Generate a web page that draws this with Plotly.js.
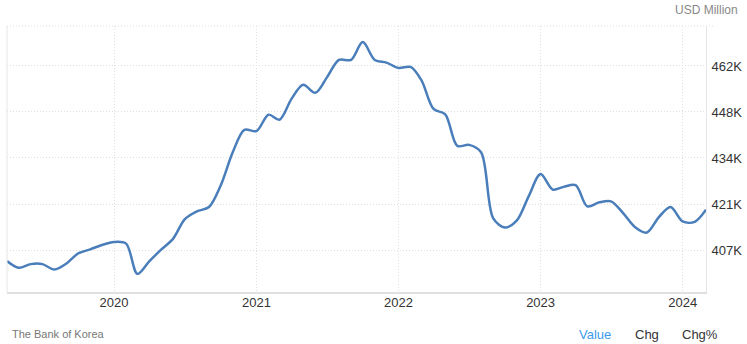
<!DOCTYPE html>
<html>
<head>
<meta charset="utf-8">
<script src="https://cdn.plot.ly/plotly-3.0.1.min.js"></script>
<style>html,body{margin:0;padding:0;background:#fff;}#chart{width:747px;height:344px;}</style>
</head>
<body>
<div id="chart"></div>
<script>
// Korea foreign exchange reserves, USD Million (thousands shown as K)
const months = [
"2019-04-01","2019-05-01","2019-06-01","2019-07-01","2019-08-01","2019-09-01","2019-10-01","2019-11-01","2019-12-01",
"2020-01-01","2020-02-01","2020-03-01","2020-04-01","2020-05-01","2020-06-01","2020-07-01","2020-08-01","2020-09-01","2020-10-01","2020-11-01","2020-12-01",
"2021-01-01","2021-02-01","2021-03-01","2021-04-01","2021-05-01","2021-06-01","2021-07-01","2021-08-01","2021-09-01","2021-10-01","2021-11-01","2021-12-01",
"2022-01-01","2022-02-01","2022-03-01","2022-04-01","2022-05-01","2022-06-01","2022-07-01","2022-08-01","2022-09-01","2022-10-01","2022-11-01","2022-12-01",
"2023-01-01","2023-02-01","2023-03-01","2023-04-01","2023-05-01","2023-06-01","2023-07-01","2023-08-01","2023-09-01","2023-10-01","2023-11-01","2023-12-01",
"2024-01-01","2024-02-01","2024-03-01"];
const reserves = [
404.0,402.0,403.1,403.1,401.5,403.3,406.3,407.5,408.8,
409.7,409.2,400.2,404.0,407.4,410.7,416.5,418.8,420.1,426.5,436.4,443.1,
442.7,447.6,446.1,452.3,456.5,454.1,458.7,463.9,463.9,469.2,463.9,463.1,
461.5,461.8,457.8,449.3,447.7,438.3,438.6,436.4,416.8,414.0,416.1,423.2,
429.9,425.3,426.1,426.6,420.3,421.5,421.8,418.3,414.1,412.5,417.1,420.1,
415.8,415.7,419.3];
const yTickVals = [407.3, 421.0, 434.7, 448.4, 462.1];
const yTickText = ["407K","421K","434K","448K","462K"];
const xTickVals = ["2020-01-01","2021-01-01","2022-01-01","2023-01-01","2024-01-01"];
const xTickText = ["2020","2021","2022","2023","2024"];
const unitLabel = "USD Million";
const sourceLabel = "The Bank of Korea";
const tabLabels = ["Value","Chg","Chg%"];

const gridCol = "#e0e0e0";
const gridDash = "1px,2px";
const trace = {
  x: months, y: reserves, type: "scatter", mode: "lines",
  line: {color: "#4a7ebb", width: 2.5, shape: "spline", smoothing: 0.9},
  hoverinfo: "skip"
};
const layout = {
  width: 747, height: 344,
  margin: {l: 7, r: 41, t: 26, b: 52},
  paper_bgcolor: "#fff", plot_bgcolor: "#fff",
  font: {family: "Liberation Sans, Arial, sans-serif", size: 13, color: "#333"},
  showlegend: false,
  xaxis: {
    type: "date", range: ["2019-04-01","2024-03-01"],
    tickvals: xTickVals, ticktext: xTickText,
    showgrid: true, gridcolor: gridCol, griddash: gridDash, gridwidth: 1,
    showline: true, linecolor: "#e0e0e0", linewidth: 2,
    ticks: "", zeroline: false, ticklabelstandoff: -3,
    tickfont: {size: 13, color: "#333"}
  },
  yaxis: {
    side: "right", range: [394.8, 474.0],
    tickvals: yTickVals, ticktext: yTickText,
    showgrid: true, gridcolor: gridCol, griddash: gridDash, gridwidth: 1,
    showline: true, linecolor: "#e6e6e6", linewidth: 1,
    ticks: "outside", ticklen: 9, tickcolor: "rgba(0,0,0,0)",
    ticklabelstandoff: -7,
    zeroline: false,
    tickfont: {size: 13, color: "#333"}
  },
  shapes: [
    {type: "line", xref: "paper", yref: "paper", x0: 0, x1: 1.013, y0: 1, y1: 1,
     line: {color: gridCol, width: 1, dash: gridDash}},
    {type: "line", xref: "paper", yref: "paper", x0: 0, x1: 0, y0: 0, y1: 1,
     line: {color: "#e6e6e6", width: 1}}
  ],
  annotations: [
    {text: unitLabel, xref: "paper", yref: "paper", x: 1.0486, y: 1.06,
     xanchor: "right", yanchor: "middle", showarrow: false,
     font: {size: 12, color: "#888"}},
    {text: sourceLabel, xref: "paper", yref: "paper", x: 0.0045, y: -0.158,
     xanchor: "left", yanchor: "middle", showarrow: false,
     font: {size: 11, color: "#777"}},
    {text: tabLabels[0], xref: "paper", yref: "paper", x: (577-7)/699, y: -0.158,
     xanchor: "left", yanchor: "middle", showarrow: false,
     font: {size: 13, color: "#3d9be9"}},
    {text: tabLabels[1], xref: "paper", yref: "paper", x: (633-7)/699, y: -0.158,
     xanchor: "left", yanchor: "middle", showarrow: false,
     font: {size: 13, color: "#333"}},
    {text: tabLabels[2], xref: "paper", yref: "paper", x: (680-7)/699, y: -0.158,
     xanchor: "left", yanchor: "middle", showarrow: false,
     font: {size: 13, color: "#333"}}
  ]
};
Plotly.newPlot("chart", [trace], layout, {displayModeBar: false, staticPlot: true});
</script>
</body>
</html>
